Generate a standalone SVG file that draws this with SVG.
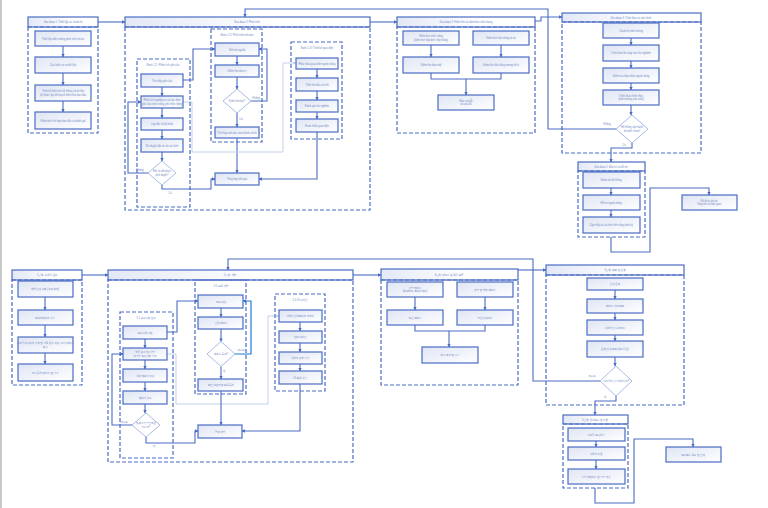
<svg xmlns="http://www.w3.org/2000/svg" width="768" height="508" viewBox="0 0 768 508">
<defs>
<linearGradient id="g" x1="0" y1="0" x2="1" y2="1"><stop offset="0" stop-color="#dfe5f4"/><stop offset="1" stop-color="#ffffff"/></linearGradient>
<linearGradient id="gh" x1="0" y1="0" x2="1" y2="0"><stop offset="0" stop-color="#e3e8f6"/><stop offset="0.6" stop-color="#ffffff"/></linearGradient>
<marker id="a" viewBox="0 0 6 6" refX="5.5" refY="3" markerWidth="3" markerHeight="3" orient="auto"><path d="M0 0L6 3L0 6z" fill="#4a6cc3"/></marker>
<marker id="al" viewBox="0 0 6 6" refX="5.5" refY="3" markerWidth="3" markerHeight="3" orient="auto"><path d="M0 0L6 3L0 6z" fill="#c3d0ea"/></marker>
<marker id="ab" viewBox="0 0 6 6" refX="5.5" refY="3" markerWidth="3" markerHeight="3" orient="auto"><path d="M0 0L6 3L0 6z" fill="#1e7bd6"/></marker>
<style>
.n{fill:url(#g);stroke:#4a6cc3;stroke-width:1.2}
.h{fill:url(#gh);stroke:#4a6cc3;stroke-width:1.2}
.c{fill:none;stroke:#4a6cc3;stroke-width:1.2;stroke-dasharray:4 2}
.d{fill:#ffffff;stroke:#a9bce6;stroke-width:1}
.e{fill:none;stroke:#4a6cc3;stroke-width:1.1;marker-end:url(#a)}
.p{fill:none;stroke:#4a6cc3;stroke-width:1.1}
.l{fill:none;stroke:#c3d0ea;stroke-width:1;marker-end:url(#al)}
.b{fill:none;stroke:#1e7bd6;stroke-width:1.2;marker-end:url(#ab)}
text{font-family:"Liberation Sans","Noto Sans CJK KR",sans-serif;font-size:2.6px;fill:#6f88c4;text-anchor:middle}
</style>
</defs>
<rect x="0" y="0" width="768" height="508" fill="#ffffff"/>
<line x1="1" y1="0" x2="1" y2="508" stroke="#c8c8c8" stroke-width="2"/>

<g id="connectors">
<path class="e" d="M63 46V57"/><path class="e" d="M63 73V85"/><path class="e" d="M63 101V112"/>
<path class="e" d="M98 22H125"/>
<path class="e" d="M162 87V96"/><path class="e" d="M162 108V118"/><path class="e" d="M162 130V139"/><path class="e" d="M162 152V161"/>
<path class="e" d="M148 173H128V102H141"/>
<path class="e" d="M162 185V189H211V179H215"/>
<path class="e" d="M183 80H193V49H215"/>
<path class="e" d="M237 56V65"/><path class="e" d="M237 77V89"/><path class="e" d="M237 113V127"/>
<path class="e" d="M251 101H267V49H259"/>
<path class="e" d="M237 138V173"/>
<path class="e" d="M317 69V78"/><path class="e" d="M317 91V100"/><path class="e" d="M317 112V119"/>
<path class="e" d="M317 132V179H259"/>
<path class="l" d="M183 102H192V152H283V63H296"/>
<path class="e" d="M370 22H397"/>
<path class="e" d="M431 45V57"/><path class="e" d="M501 45V57"/>
<path class="p" d="M431 73V79H501V73"/><path class="e" d="M466 79V95"/>
<path class="e" d="M535 21H541V17H562"/>
<path class="e" d="M616 129H548V9H245V17"/>
<path class="e" d="M631 38V45"/><path class="e" d="M631 61V68"/><path class="e" d="M631 83V90"/><path class="e" d="M631 105V115"/>
<path class="e" d="M632 143V148H611V162"/>
<path class="e" d="M611 188V195"/><path class="e" d="M611 210V217"/>
<path class="e" d="M611 237V252H650V188H709V195"/>

<path class="e" d="M45 297V310"/><path class="e" d="M45 325V337"/><path class="e" d="M45 353V364"/>
<path class="e" d="M82 275H108"/>
<path class="e" d="M145 339V348"/><path class="e" d="M145 360V369"/><path class="e" d="M145 382V391"/><path class="e" d="M145 404V413"/>
<path class="e" d="M132 425H112V354H123"/>
<path class="e" d="M146 437V443H195V431H198"/>
<path class="e" d="M167 332H177V301H198"/>
<path class="l" d="M167 354H176V404H268V316H279"/>
<path class="e" d="M221 308V317"/><path class="e" d="M221 329V341.5"/><path class="e" d="M221 366.5V379"/>
<path class="b" d="M235 354H251V301H243"/>
<path class="e" d="M221 391V425"/>
<path class="e" d="M300 322V331"/><path class="e" d="M300 343V352"/><path class="e" d="M300 364V371"/>
<path class="e" d="M300 384V431H242"/>
<path class="e" d="M353 275H381"/>
<path class="e" d="M415 297V310"/><path class="e" d="M485 297V310"/>
<path class="p" d="M415 325V331H485V325"/><path class="e" d="M449 331V347"/>
<path class="e" d="M518 270H546"/>
<path class="e" d="M600 381H533V259H228V270"/>
<path class="e" d="M615 290V299"/><path class="e" d="M615 313V320"/><path class="e" d="M615 335V341"/><path class="e" d="M615 357V366"/>
<path class="e" d="M616 396V401H595V415"/>
<path class="e" d="M596 441V447"/><path class="e" d="M596 460V469"/>
<path class="e" d="M595 488V503H634V439H693V447"/>
<text x="140" y="171">Không</text><text x="170" y="194">Có</text>
<text x="256" y="99">Không</text><text x="241" y="120">Có</text>
<text x="607" y="125">Không</text><text x="624" y="146">Có</text>
<text x="124" y="423">아니요</text><text x="154" y="447">예</text>
<text x="241" y="351">아니요</text><text x="224" y="372">예</text>
<text x="592" y="377">아니요</text><text x="605" y="398">예</text>
</g>

<g id="stage1">
<rect class="h" x="28" y="17" width="70" height="10"/><text x="63" y="23">Giai đoạn 1: Thiết lập và chuẩn bị</text>
<rect class="c" x="28" y="27" width="70" height="106"/>
<rect class="n" x="35" y="31" width="56" height="15"/><text x="63" y="39.5">Thiết lập môi trường phát triển dự án</text>
<rect class="n" x="35" y="57" width="56" height="16"/><text x="63" y="66">Cấu hình cơ sở dữ liệu</text>
<rect class="n" x="35" y="85" width="56" height="16"/><text x="63" y="92">Thiết kế kiến trúc hệ thống và tài liệu</text><text x="63" y="95.5">kỹ thuật, lập kế hoạch kiểm thử ban đầu</text>
<rect class="n" x="35" y="112" width="56" height="17"/><text x="63" y="121.5">Kiểm thử tích hợp ban đầu và đánh giá</text>
</g>

<g id="stage2">
<rect class="h" x="125" y="17" width="245" height="10"/><text x="247" y="23">Giai đoạn 2: Phát triển</text>
<rect class="c" x="125" y="27" width="245" height="183"/>
<g id="step21">
<rect class="c" x="137" y="59" width="53" height="148"/><text x="163" y="66">Bước 2.1: Phân tích yêu cầu</text>
<rect class="n" x="141" y="74" width="42" height="13"/><text x="162" y="81.5">Thu thập yêu cầu</text>
<rect class="n" x="141" y="96" width="42" height="12"/><text x="162" y="101">Phân tích nghiệp vụ và xác định</text><text x="162" y="104.5">yêu cầu chức năng, phi chức năng</text>
<rect class="n" x="141" y="118" width="42" height="12"/><text x="162" y="125">Lập đặc tả kỹ thuật</text>
<rect class="n" x="141" y="139" width="42" height="13"/><text x="162" y="146.5">Xét duyệt đặc tả với các bên</text>
<polygon class="d" points="162,161 176,173 162,185 148,173"/><text x="162" y="172">Đặc tả đã được</text><text x="162" y="175.5">phê duyệt?</text>
</g>
<g id="step22">
<rect class="c" x="211" y="29" width="51" height="113"/><text x="237" y="36">Bước 2.2: Phát triển mô-đun</text>
<rect class="n" x="215" y="43" width="44" height="13"/><text x="237" y="50.5">Viết mã nguồn</text>
<rect class="n" x="215" y="65" width="44" height="12"/><text x="237" y="72">Kiểm thử đơn vị</text>
<polygon class="d" points="237,89 251,101 237,113 223,101"/><text x="237" y="102">Kiểm thử đạt?</text>
<rect class="n" x="215" y="127" width="44" height="11"/><text x="237" y="133.5">Tích hợp mô-đun vào nhánh chính</text>
</g>
<g id="step23">
<rect class="c" x="291" y="42" width="51" height="97"/><text x="317" y="49">Bước 2.3: Thiết kế giao diện</text>
<rect class="n" x="296" y="58" width="42" height="11"/><text x="317" y="64.5">Phác thảo giao diện người dùng</text>
<rect class="n" x="296" y="78" width="42" height="13"/><text x="317" y="85.5">Thiết kế mẫu chi tiết</text>
<rect class="n" x="296" y="100" width="42" height="12"/><text x="317" y="107">Đánh giá trải nghiệm</text>
<rect class="n" x="296" y="119" width="42" height="13"/><text x="317" y="126.5">Hoàn thiện giao diện</text>
</g>
<g id="summary2"><rect class="n" x="215" y="173" width="44" height="12"/><text x="237" y="180">Tổng hợp kết quả</text></g>
</g>

<g id="stage3">
<rect class="h" x="397" y="17" width="138" height="10"/><text x="466" y="23">Giai đoạn 3: Kiểm thử và đảm bảo chất lượng</text>
<rect class="c" x="397" y="27" width="138" height="106"/>
<rect class="n" x="403" y="31" width="56" height="14"/><text x="431" y="37">Kiểm thử chức năng</text><text x="431" y="40.5">(kiểm thử hộp đen, hộp trắng)</text>
<rect class="n" x="473" y="31" width="56" height="14"/><text x="501" y="39">Kiểm thử hiệu năng và tải</text>
<rect class="n" x="403" y="57" width="56" height="16"/><text x="431" y="66">Kiểm thử bảo mật</text>
<rect class="n" x="473" y="57" width="56" height="16"/><text x="501" y="66">Kiểm thử khả năng tương thích</text>
<rect class="n" x="438" y="95" width="56" height="15"/><text x="466" y="101.5">Báo cáo lỗi</text><text x="466" y="105">và sửa lỗi</text>
</g>

<g id="stage4">
<rect class="h" x="562" y="13" width="139" height="9"/><text x="631" y="18.5">Giai đoạn 4: Triển khai và vận hành</text>
<rect class="c" x="562" y="22" width="139" height="131"/>
<rect class="n" x="603" y="23" width="56" height="15"/><text x="631" y="31.5">Chuẩn bị môi trường</text>
<rect class="n" x="603" y="45" width="56" height="16"/><text x="631" y="54">Triển khai lên máy chủ thử nghiệm</text>
<rect class="n" x="603" y="68" width="56" height="15"/><text x="631" y="76.5">Kiểm tra chấp nhận người dùng</text>
<rect class="n" x="603" y="90" width="56" height="15"/><text x="631" y="96.5">Triển khai chính thức</text><text x="631" y="100">(môi trường sản xuất)</text>
<polygon class="d" points="632,115 648,129 632,143 616,129"/><text x="632" y="128">Hệ thống vận hành</text><text x="632" y="131.5">ổn định chưa?</text>
</g>

<g id="stage5">
<rect class="h" x="578" y="162" width="67" height="9"/><text x="611" y="167.5">Giai đoạn 5: Bảo trì và hỗ trợ</text>
<rect class="c" x="578" y="171" width="67" height="66"/>
<rect class="n" x="583" y="172" width="57" height="16"/><text x="611" y="181">Giám sát hệ thống</text>
<rect class="n" x="583" y="195" width="57" height="15"/><text x="611" y="203.5">Hỗ trợ người dùng</text>
<rect class="n" x="583" y="217" width="57" height="16"/><text x="611" y="226">Cập nhật và cải tiến tính năng định kỳ</text>
</g>

<g id="end-vi"><rect class="n" x="682" y="195" width="55" height="15"/><text x="709" y="201.5">Kết thúc dự án</text><text x="709" y="205">Tổng kết và bàn giao</text></g>

<g id="stage1-ko">
<rect class="h" x="12" y="270" width="70" height="10"/><text x="47" y="276">1단계: 시스템 준비</text>
<rect class="c" x="12" y="280" width="70" height="105"/>
<rect class="n" x="18" y="281" width="55" height="16"/><text x="45" y="290">개발 환경 구축 (서버 포함)</text>
<rect class="n" x="18" y="310" width="55" height="15"/><text x="45" y="318.5">데이터베이스 설정</text>
<rect class="n" x="18" y="337" width="55" height="16"/><text x="45" y="344">시스템 아키텍처 설계 및 기술 문서 작성, 초기 테스트</text><text x="45" y="347.5">계획</text>
<rect class="n" x="18" y="364" width="55" height="17"/><text x="45" y="373.5">초기 통합 테스트 및 평가</text>
</g>

<g id="stage2-ko">
<rect class="h" x="108" y="270" width="245" height="10"/><text x="230" y="276">2단계: 개발</text>
<rect class="c" x="108" y="280" width="245" height="182"/>
<g id="step21-ko">
<rect class="c" x="120" y="312" width="53" height="146"/><text x="146" y="319">2.1 요구사항 분석</text>
<rect class="n" x="123" y="326" width="44" height="13"/><text x="145" y="333.5">요구사항 수집</text>
<rect class="n" x="123" y="348" width="44" height="12"/><text x="145" y="353">업무 분석 및 기능/</text><text x="145" y="356.5">비기능 요구사항 정의</text>
<rect class="n" x="123" y="369" width="44" height="13"/><text x="145" y="376.5">기술 명세서 작성</text>
<rect class="n" x="123" y="391" width="44" height="13"/><text x="145" y="398.5">명세서 검토</text>
<polygon class="d" points="146,413 160,425 146,437 132,425"/><text x="146" y="424">명세서가 승인되었</text><text x="146" y="427.5">습니까?</text>
</g>
<g id="step22-ko">
<rect class="c" x="195" y="280" width="51" height="114"/><text x="221" y="287">2.2 모듈 개발</text>
<rect class="n" x="198" y="295" width="45" height="13"/><text x="221" y="302.5">코드 작성</text>
<rect class="n" x="198" y="317" width="45" height="12"/><text x="221" y="324">단위 테스트</text>
<polygon class="d" points="221,341.5 235,354 221,366.5 207,354"/><text x="221" y="355">테스트 통과?</text>
<rect class="n" x="198" y="379" width="45" height="12"/><text x="221" y="386">메인 브랜치에 모듈 통합</text>
</g>
<g id="step23-ko">
<rect class="c" x="275" y="294" width="50" height="97"/><text x="300" y="301">2.3 UI 디자인</text>
<rect class="n" x="279" y="310" width="43" height="12"/><text x="300" y="317">사용자 인터페이스 스케치</text>
<rect class="n" x="279" y="331" width="43" height="12"/><text x="300" y="338">상세 디자인</text>
<rect class="n" x="279" y="352" width="43" height="12"/><text x="300" y="359">사용자 경험 평가</text>
<rect class="n" x="279" y="371" width="43" height="13"/><text x="300" y="378.5">UI 최종 확정</text>
</g>
<g id="summary2-ko"><rect class="n" x="198" y="425" width="44" height="13"/><text x="220" y="432.5">결과 취합</text></g>
</g>

<g id="stage3-ko">
<rect class="h" x="381" y="269" width="137" height="11"/><text x="449" y="275.5">3단계: 테스트 및 품질 보증</text>
<rect class="c" x="381" y="280" width="137" height="105"/>
<rect class="n" x="387" y="282" width="56" height="15"/><text x="415" y="288.5">기능 테스트</text><text x="415" y="292">(블랙박스, 화이트박스)</text>
<rect class="n" x="457" y="282" width="56" height="15"/><text x="485" y="290.5">성능 및 부하 테스트</text>
<rect class="n" x="387" y="310" width="56" height="15"/><text x="415" y="318.5">보안 테스트</text>
<rect class="n" x="457" y="310" width="56" height="15"/><text x="485" y="318.5">호환성 테스트</text>
<rect class="n" x="422" y="347" width="56" height="16"/><text x="450" y="356">버그 보고 및 수정</text>
</g>

<g id="stage4-ko">
<rect class="h" x="546" y="265" width="138" height="10"/><text x="615" y="271">4단계: 배포 및 운영</text>
<rect class="c" x="546" y="275" width="138" height="130"/>
<rect class="n" x="587" y="278" width="56" height="12"/><text x="615" y="285">환경 준비</text>
<rect class="n" x="587" y="299" width="56" height="14"/><text x="615" y="307">테스트 서버 배포</text>
<rect class="n" x="587" y="320" width="56" height="15"/><text x="615" y="328.5">사용자 인수 테스트</text>
<rect class="n" x="587" y="341" width="56" height="16"/><text x="615" y="350">운영 환경 배포 (프로덕션)</text>
<polygon class="d" points="616,366 632,381 616,396 600,381"/><text x="616" y="382">시스템이 안정적입니까?</text>
</g>

<g id="stage5-ko">
<rect class="h" x="563" y="415" width="65" height="9"/><text x="595" y="420.5">5단계: 유지보수 및 지원</text>
<rect class="c" x="563" y="424" width="65" height="64"/>
<rect class="n" x="568" y="428" width="57" height="13"/><text x="596" y="435.5">시스템 모니터링</text>
<rect class="n" x="568" y="447" width="57" height="13"/><text x="596" y="454.5">사용자 지원</text>
<rect class="n" x="568" y="469" width="57" height="15"/><text x="596" y="477.5">정기 업데이트 및 기능 개선</text>
</g>

<g id="end-ko"><rect class="n" x="666" y="447" width="55" height="15"/><text x="693" y="455.5">프로젝트 종료 및 인계</text></g>
</svg>
